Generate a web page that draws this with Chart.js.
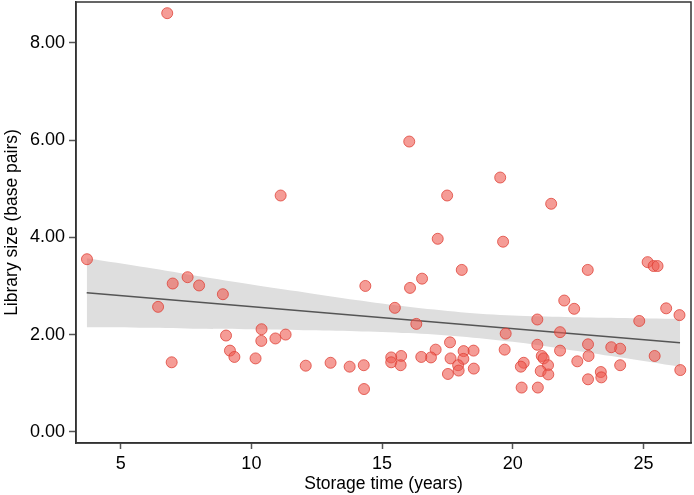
<!DOCTYPE html>
<html>
<head>
<meta charset="utf-8">
<script src="https://cdn.jsdelivr.net/npm/chart.js@4"></script>
<style>
  body { margin: 0; background: #fff; }
  #wrap { width: 694px; height: 495px; }
</style>
</head>
<body>
<div id="wrap"><canvas id="chart-storage"></canvas></div>
<script>
'use strict';

/* global Chart */

// storage time (years) and library size (base pairs), one entry per sample
const storageYears = [
  6.78, 16.04, 11.12, 17.49, 19.52, 21.47, 19.63, 17.13, 18.05, 16.53,
  16.07, 14.36, 15.49, 16.31, 22.87, 25.16, 25.39, 25.54, 21.97, 22.35,
  25.87, 26.38, 24.84, 20.94, 19.73, 21.81, 19.69, 20.94, 21.81, 22.88,
  22.90, 23.77, 24.11, 25.43, 26.41, 24.11, 22.47, 23.37, 23.39, 22.88,
  21.11, 21.18, 21.35, 21.07, 21.36, 20.96, 20.34, 20.42, 20.31, 18.50,
  18.51, 17.60, 18.12, 18.11, 17.62, 17.91, 17.93, 17.52, 17.05, 16.87,
  16.50, 15.73, 15.35, 15.35, 15.71, 14.30, 14.31, 13.76, 13.03, 12.08,
  11.31, 10.92, 10.39, 10.38, 9.03, 9.18, 9.35, 10.16, 6.95, 6.43,
  3.71, 6.99, 7.56, 8.00, 8.91
];
const librarySize = [
  8.61, 5.97, 4.86, 4.86, 5.23, 4.69, 3.91, 3.97, 3.33, 3.15,
  2.96, 3.00, 2.55, 2.22, 3.33, 3.49, 3.41, 3.41, 2.70, 2.53,
  2.54, 2.40, 2.28, 2.31, 2.02, 2.05, 1.69, 1.79, 1.67, 1.80,
  1.56, 1.74, 1.71, 1.56, 1.27, 1.37, 1.45, 1.23, 1.12, 1.08,
  1.56, 1.51, 1.37, 1.25, 1.18, 0.91, 0.91, 1.42, 1.34, 1.67,
  1.30, 1.84, 1.66, 1.50, 1.51, 1.37, 1.26, 1.19, 1.69, 1.53,
  1.54, 1.56, 1.53, 1.43, 1.37, 1.37, 0.88, 1.34, 1.42, 1.36,
  2.00, 1.92, 2.11, 1.87, 1.98, 1.67, 1.54, 1.51, 1.43, 2.57,
  3.55, 3.05, 3.18, 3.01, 2.83
];

// fitted line and its confidence band
const fitX = [3.7, 26.4];
const fitY = [2.86, 1.83];
const bandX = [3.7, 6, 8, 10, 12, 14, 16, 18, 20, 22, 24, 26.4];
const bandUpper = [3.57, 3.38, 3.20, 3.03, 2.87, 2.71, 2.57, 2.46, 2.39, 2.36, 2.34, 2.32];
const bandLower = [2.15, 2.14, 2.12, 2.11, 2.09, 2.07, 2.03, 1.96, 1.85, 1.70, 1.54, 1.34];

const xTicks = [5, 10, 15, 20, 25];
const yTicks = [0, 2, 4, 6, 8];

const FONT = "'Liberation Sans', Arial, sans-serif";

function pairs(xs, ys) {
  return xs.map((x, i) => ({ x: x, y: ys[i] }));
}

// box round the plot area
const frame = {
  id: 'frame',
  afterDraw(chart) {
    const { ctx, chartArea: a } = chart;
    ctx.save();
    ctx.strokeStyle = '#333';
    ctx.lineWidth = 1.5;
    ctx.strokeRect(a.left, a.top, a.right - a.left, a.bottom - a.top);
    ctx.restore();
  }
};

const canvas = document.getElementById('chart-storage');
new Chart(canvas, {
  type: 'scatter',
  data: {
    datasets: [
      {
        data: pairs(storageYears, librarySize),
        backgroundColor: 'rgba(238, 90, 80, 0.6)',
        borderColor: 'rgba(222, 60, 50, 0.75)',
        borderWidth: 1,
        pointRadius: 5.5,
        order: 0
      },
      {
        data: pairs(fitX, fitY),
        showLine: true,
        borderColor: '#555',
        borderWidth: 1.5,
        pointRadius: 0,
        order: 1
      },
      {
        data: pairs(bandX, bandUpper),
        showLine: true,
        borderWidth: 0,
        pointRadius: 0,
        tension: 0.3,
        backgroundColor: '#dedede',
        fill: '+1',
        order: 2
      },
      {
        data: pairs(bandX, bandLower),
        showLine: true,
        borderWidth: 0,
        pointRadius: 0,
        tension: 0.3,
        order: 3
      }
    ]
  },
  options: {
    responsive: true,
    maintainAspectRatio: false,
    animation: false,
    layout: { autoPadding: false, padding: { top: 2, right: 3 } },
    plugins: {
      legend: { display: false },
      tooltip: { enabled: false }
    },
    scales: {
      x: {
        type: 'linear',
        min: 3.29,
        max: 26.82,
        afterBuildTicks: s => { s.ticks = xTicks.map(v => ({ value: v })); },
        afterFit: s => { s.height = 52; s.paddingLeft = 0; s.paddingRight = 0; },
        grid: { drawOnChartArea: false, tickLength: 6, tickColor: '#555', tickWidth: 1.5 },
        border: { display: true, color: '#333', width: 1.5 },
        ticks: { color: '#000', font: { family: FONT, size: 18 }, padding: 4 },
        title: {
          display: true,
          text: 'Storage time (years)',
          color: '#000',
          font: { family: FONT, size: 17.5 },
          padding: { top: 0, bottom: 0 }
        }
      },
      y: {
        type: 'linear',
        min: -0.23,
        max: 8.84,
        afterBuildTicks: s => { s.ticks = yTicks.map(v => ({ value: v })); },
        afterFit: s => { s.width = 76; s.paddingTop = 0; s.paddingBottom = 0; },
        grid: { drawOnChartArea: false, tickLength: 7, tickColor: '#555', tickWidth: 1.5 },
        border: { display: true, color: '#333', width: 1.5 },
        ticks: {
          color: '#000',
          font: { family: FONT, size: 18 },
          padding: 4,
          callback: v => v.toFixed(2)
        },
        title: {
          display: true,
          text: 'Library size (base pairs)',
          color: '#000',
          font: { family: FONT, size: 17.5 },
          padding: { top: 2, bottom: 0 }
        }
      }
    }
  },
  plugins: [frame]
});
</script>
</body>
</html>
